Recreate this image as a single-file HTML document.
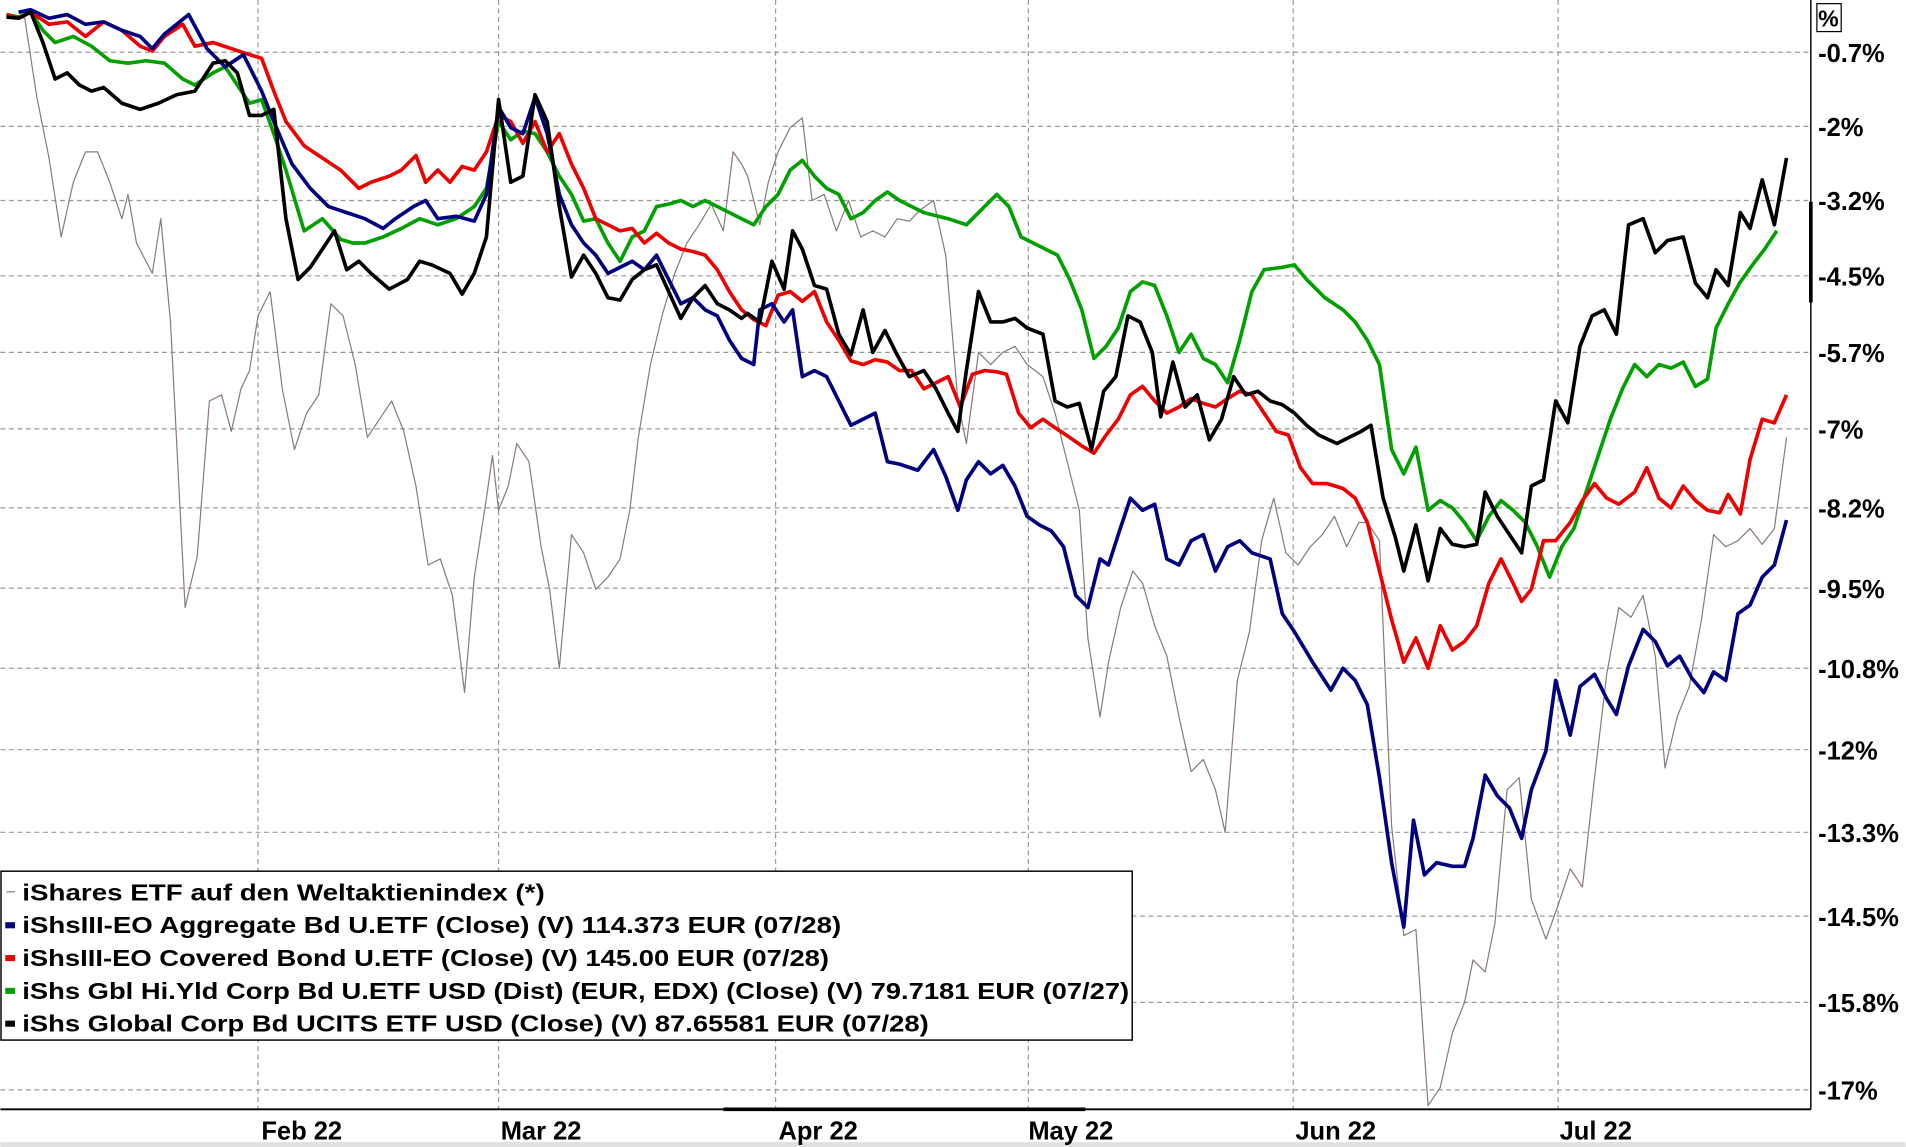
<!DOCTYPE html>
<html><head><meta charset="utf-8"><style>
html,body{margin:0;padding:0;background:#fff;}
svg{display:block;}
text{font-family:"Liberation Sans",Arial,sans-serif;font-weight:bold;}
</style></head><body>
<svg width="1906" height="1147" viewBox="0 0 1568 944" xmlns="http://www.w3.org/2000/svg">
<rect width="1568" height="944" fill="#fff"/>
<rect x="0" y="940" width="1568" height="4" fill="#e0e0e0"/>
<g stroke="#999" stroke-width="1" stroke-dasharray="4,3" fill="none">
<line x1="0" y1="43" x2="1490" y2="43"/><line x1="0" y1="104" x2="1490" y2="104"/><line x1="0" y1="165" x2="1490" y2="165"/><line x1="0" y1="227" x2="1490" y2="227"/><line x1="0" y1="290" x2="1490" y2="290"/><line x1="0" y1="353" x2="1490" y2="353"/><line x1="0" y1="418" x2="1490" y2="418"/><line x1="0" y1="484" x2="1490" y2="484"/><line x1="0" y1="550" x2="1490" y2="550"/><line x1="0" y1="617" x2="1490" y2="617"/><line x1="0" y1="685" x2="1490" y2="685"/><line x1="0" y1="754" x2="1490" y2="754"/><line x1="0" y1="825" x2="1490" y2="825"/><line x1="0" y1="897" x2="1490" y2="897"/>
<line x1="212" y1="0" x2="212" y2="913"/><line x1="410" y1="0" x2="410" y2="913"/><line x1="638" y1="0" x2="638" y2="913"/><line x1="846" y1="0" x2="846" y2="913"/><line x1="1064" y1="0" x2="1064" y2="913"/><line x1="1282" y1="0" x2="1282" y2="913"/>
</g>
<line x1="0" y1="913" x2="1490" y2="913" stroke="#000" stroke-width="1.5"/>
<line x1="595" y1="913" x2="893" y2="913" stroke="#000" stroke-width="3"/>
<line x1="1490" y1="0" x2="1490" y2="913" stroke="#000" stroke-width="1.2"/>
<line x1="1490" y1="166" x2="1490" y2="249" stroke="#000" stroke-width="3"/>
<g fill="none" stroke-linejoin="round">
<polyline stroke="#8a7a7a" stroke-width="1" points="5,12 20,15 30,80 40,130 50,195 60,150 70,125 80,125 90,150 100,180 105,160 112,200 125,225 132,180 140,265 152,500 162,458 172,330 182,325 190,355 198,320 205,305 212,260 222,240 232,320 242,370 252,340 262,325 272,250 282,260 292,300 302,360 312,345 322,330 332,355 342,400 352,465 362,460 372,490 382,570 390,475 400,410 405,375 410,420 418,400 425,365 435,380 445,450 452,485 460,550 470,440 480,455 490,485 500,475 510,460 518,420 525,360 535,300 545,258 555,225 565,200 575,185 585,168 595,190 603,125 610,135 615,145 625,185 632,150 640,125 650,105 660,97 668,165 678,160 688,190 698,165 708,195 718,190 728,195 738,180 748,182 758,172 768,165 778,210 788,330 795,365 805,290 815,300 825,290 835,285 845,300 858,310 868,340 878,380 888,420 895,525 905,590 912,545 922,500 932,470 940,480 950,515 960,540 970,590 980,635 990,625 1000,650 1008,685 1018,560 1028,520 1038,445 1048,410 1058,455 1068,465 1078,450 1088,440 1098,425 1108,450 1118,430 1125,430 1135,445 1145,680 1155,770 1165,765 1175,910 1185,895 1195,850 1205,825 1212,790 1222,800 1230,760 1240,650 1250,640 1260,740 1272,773 1282,745 1292,715 1302,730 1312,640 1322,555 1332,500 1342,508 1352,490 1362,540 1370,632 1380,590 1390,565 1400,510 1410,440 1420,450 1430,445 1440,435 1450,448 1460,435 1470,360"/>
<polyline stroke="#00a000" stroke-width="3" points="5,12 15,14 25,10 35,25 45,35 60,30 75,38 90,50 105,52 120,50 135,52 150,65 160,70 175,60 185,55 195,70 205,85 215,82 225,110 235,140 250,190 265,180 280,197 290,200 300,200 315,195 330,188 345,180 360,185 375,180 390,170 400,155 410,100 420,115 430,108 440,110 450,125 460,145 470,160 480,182 490,180 500,200 510,215 520,195 530,190 540,170 550,168 560,165 570,170 580,165 590,170 600,175 610,180 620,185 630,170 640,160 650,140 660,132 670,145 680,155 690,160 700,180 710,175 720,165 730,158 740,165 760,175 780,180 795,185 810,170 820,160 830,170 840,195 850,200 860,205 870,210 880,230 890,255 900,295 910,285 920,270 930,240 940,232 950,235 960,260 970,290 980,275 990,295 1000,300 1010,315 1020,280 1030,240 1040,222 1055,220 1065,218 1075,230 1090,245 1105,255 1115,265 1125,280 1135,300 1145,370 1155,390 1165,368 1175,420 1185,412 1195,418 1205,430 1215,445 1225,425 1235,412 1245,420 1255,430 1265,450 1275,475 1285,450 1295,435 1305,405 1315,375 1325,345 1335,320 1345,300 1355,310 1365,300 1375,303 1385,298 1395,318 1405,312 1412,270 1422,250 1432,232 1442,218 1452,205 1462,190"/>
<polyline stroke="#ee0000" stroke-width="3" points="5,12 15,15 25,10 40,20 55,18 70,30 85,18 100,25 115,38 125,42 135,30 150,20 160,38 175,35 190,40 205,45 215,48 225,75 235,100 250,120 265,130 280,140 295,155 305,150 320,145 330,140 342,128 350,150 360,140 370,150 380,137 390,140 400,125 410,95 420,100 430,118 440,100 450,125 460,110 470,135 480,155 490,180 500,185 510,190 520,188 530,200 540,192 550,200 560,205 570,207 580,210 590,222 600,240 610,255 620,263 630,268 640,243 650,240 660,248 670,240 680,265 690,280 700,297 710,300 720,296 730,298 740,305 750,305 760,320 770,315 780,310 790,335 800,308 810,305 820,306 828,308 838,340 848,352 858,345 868,352 880,360 890,367 900,373 910,358 920,345 930,325 940,318 950,330 960,340 970,335 980,328 990,332 1000,335 1010,328 1020,322 1030,325 1040,340 1050,355 1060,358 1070,385 1080,398 1092,398 1105,402 1115,410 1125,430 1135,470 1145,510 1155,545 1165,525 1175,550 1185,515 1195,535 1205,528 1215,515 1225,480 1235,460 1245,480 1252,495 1260,485 1270,445 1280,445 1292,430 1302,412 1312,398 1322,410 1332,415 1345,405 1355,385 1365,410 1375,418 1385,400 1395,412 1405,420 1415,422 1422,407 1432,423 1440,378 1450,345 1460,348 1470,325"/>
<polyline stroke="#000080" stroke-width="3" points="15,10 25,8 40,15 55,12 70,20 85,18 100,25 115,30 125,40 135,28 155,12 170,40 185,55 200,45 215,75 225,100 240,135 255,155 270,170 285,175 300,180 315,188 325,180 340,170 350,165 360,180 375,178 390,182 400,160 410,88 420,105 430,110 440,80 450,110 460,160 470,185 480,200 490,210 500,225 510,220 520,215 530,222 540,210 550,230 560,250 570,245 580,255 590,260 600,280 610,295 620,300 625,255 635,250 645,265 652,255 660,310 670,305 680,310 690,330 700,350 710,345 720,340 730,380 740,382 755,387 768,370 778,392 788,420 795,395 805,380 815,390 825,383 835,400 845,425 855,432 865,437 875,450 885,490 895,500 905,460 912,465 920,440 930,410 940,420 950,415 960,460 970,465 980,445 990,440 1000,470 1010,450 1020,445 1030,455 1045,460 1055,505 1065,520 1080,545 1095,568 1105,550 1115,560 1125,580 1135,640 1145,710 1155,763 1163,675 1172,720 1182,710 1195,713 1205,713 1212,690 1222,638 1232,655 1242,665 1252,690 1260,650 1272,618 1280,560 1292,605 1300,565 1312,555 1322,575 1330,588 1340,548 1352,518 1362,528 1372,548 1382,540 1392,558 1402,570 1410,553 1420,560 1430,505 1440,498 1450,475 1460,465 1470,428"/>
<polyline stroke="#000" stroke-width="3" points="5,14 15,15 25,10 35,35 45,65 55,60 65,70 75,75 85,72 100,85 115,90 130,85 145,78 160,75 175,52 185,50 195,60 205,95 215,95 225,90 235,180 245,230 255,220 265,205 275,190 285,222 295,215 305,225 320,238 335,230 345,215 355,218 370,225 380,242 390,225 400,195 410,82 420,150 430,145 440,78 450,100 460,170 470,228 480,210 490,225 500,245 510,247 520,230 530,222 540,218 550,240 560,262 570,245 580,235 590,250 600,255 610,262 615,258 625,265 635,215 645,238 652,190 660,205 670,235 680,238 690,275 700,292 710,255 718,290 728,272 738,292 748,310 760,305 770,320 780,340 788,355 795,305 805,240 815,265 825,265 835,262 845,270 858,275 868,330 878,335 888,332 898,370 908,322 918,310 928,260 938,265 948,290 955,343 965,298 975,335 985,325 995,362 1005,345 1015,310 1025,325 1035,322 1045,330 1055,333 1065,340 1075,350 1085,358 1100,365 1110,360 1120,355 1128,350 1138,410 1148,442 1155,470 1165,432 1175,478 1185,435 1195,448 1205,450 1215,448 1222,405 1232,425 1242,440 1252,455 1260,400 1270,395 1280,330 1290,348 1300,285 1310,260 1320,255 1330,275 1340,185 1352,180 1362,208 1372,198 1385,195 1395,233 1405,245 1412,222 1422,235 1432,175 1440,188 1450,148 1460,185 1470,130"/>
</g>
<g font-size="21" fill="#000">
<text x="1496" y="51">-0.7%</text><text x="1496" y="112">-2%</text><text x="1496" y="173">-3.2%</text><text x="1496" y="235">-4.5%</text><text x="1496" y="298">-5.7%</text><text x="1496" y="361">-7%</text><text x="1496" y="426">-8.2%</text><text x="1496" y="492">-9.5%</text><text x="1496" y="558">-10.8%</text><text x="1496" y="625">-12%</text><text x="1496" y="693">-13.3%</text><text x="1496" y="762">-14.5%</text><text x="1496" y="833">-15.8%</text><text x="1496" y="905">-17%</text>
</g>
<rect x="1495" y="3" width="20" height="23" fill="none" stroke="#000" stroke-width="1"/>
<text x="1496" y="22" font-size="19">%</text>
<g font-size="21" text-anchor="middle">
<text x="248" y="938">Feb 22</text><text x="445" y="938">Mar 22</text><text x="673" y="938">Apr 22</text><text x="881" y="938">May 22</text><text x="1099" y="938">Jun 22</text><text x="1313" y="938">Jul 22</text>
</g>
<rect x="0.5" y="717" width="931" height="139" fill="#fff" stroke="#000" stroke-width="1.2"/>
<line x1="5" y1="734" x2="12" y2="734" stroke="#8a7a7a" stroke-width="1"/>
<rect x="4" y="759" width="8" height="5" fill="#000080"/>
<rect x="4" y="786" width="8" height="5" fill="#ee0000"/>
<rect x="4" y="813" width="8" height="5" fill="#00a000"/>
<rect x="4" y="840" width="8" height="5" fill="#000"/>
<g font-size="19">
<text x="18" y="741" textLength="430" lengthAdjust="spacingAndGlyphs">iShares ETF auf den Weltaktienindex (*)</text>
<text x="18" y="768" textLength="674" lengthAdjust="spacingAndGlyphs">iShsIII-EO Aggregate Bd U.ETF (Close) (V) 114.373 EUR (07/28)</text>
<text x="18" y="795" textLength="664" lengthAdjust="spacingAndGlyphs">iShsIII-EO Covered Bond U.ETF (Close) (V) 145.00 EUR (07/28)</text>
<text x="18" y="822" textLength="911" lengthAdjust="spacingAndGlyphs">iShs Gbl Hi.Yld Corp Bd U.ETF USD (Dist) (EUR, EDX) (Close) (V) 79.7181 EUR (07/27)</text>
<text x="18" y="849" textLength="746" lengthAdjust="spacingAndGlyphs">iShs Global Corp Bd UCITS ETF USD (Close) (V) 87.65581 EUR (07/28)</text>
</g>
</svg>
</body></html>
